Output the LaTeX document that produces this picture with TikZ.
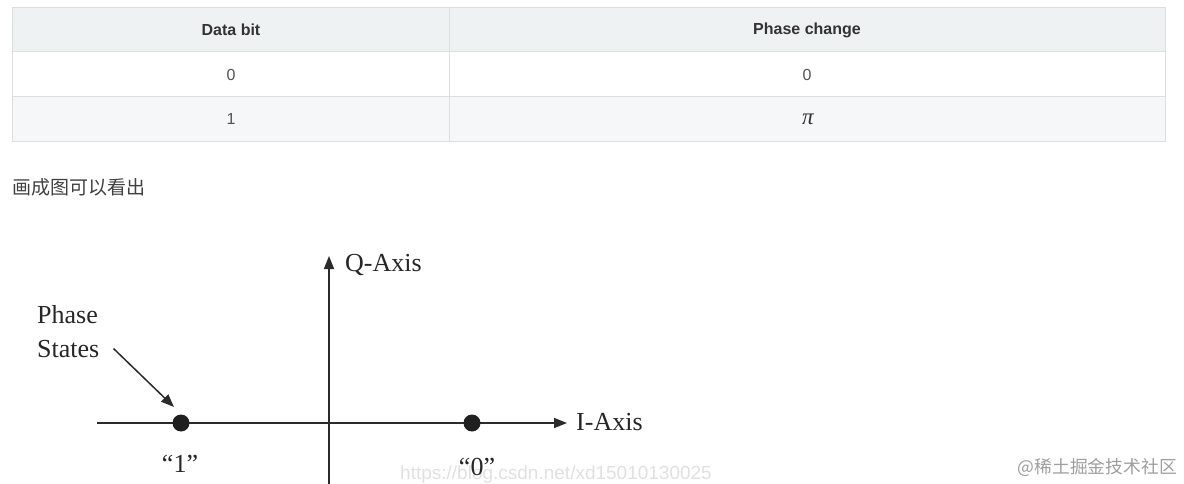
\RequirePackage{fix-cm}
\documentclass[tikz,border=0pt]{standalone}
\usepackage{fontspec}
\setmainfont{Liberation Serif}
\newfontfamily\tabfont{Liberation Sans}
\newfontfamily\cjk{Noto Sans CJK SC}
\usetikzlibrary{positioning,arrows.meta}
\definecolor{headgray}{HTML}{EFF2F3}
\definecolor{rowgray}{HTML}{F6F7F8}
\definecolor{gridgray}{HTML}{DCDEDF}
\definecolor{tabtext}{HTML}{333333}
\definecolor{axisgray}{HTML}{2B2B2B}

\begin{document}
\begin{tikzpicture}[x=1pt, y=-1pt,
    head/.style = {font=\tabfont\bfseries\fontsize{16}{19}\selectfont, text=tabtext},
    cell/.style = {font=\tabfont\fontsize{16}{19}\selectfont, text=tabtext!85},
    gridline/.style = {draw=gridgray, line width=1pt},
    label/.style = {font=\fontsize{26}{30}\selectfont, text=black!85, inner sep=0pt},
    axis/.style = {draw=axisgray, line width=1.6pt, -{Triangle[length=13pt, width=10pt]}},
    phasedot/.style = {circle, fill=black!88, minimum size=17pt, inner sep=0pt},
    mark text/.style = {inner sep=0pt}]
    \useasboundingbox (0,0) rectangle (1184,484);
    % Table
    \fill[headgray] (12,8) rectangle (1165,52);
    \fill[rowgray] (12,97) rectangle (1165,142);
    \draw[gridline] (12,8) rectangle (1165,142);
    \draw[gridline] (12,52) -- (1165,52) (12,97) -- (1165,97) (449,8) -- (449,142);
    \node[head] (bithead) at (231,30) {Data bit};
    \node[head] (phasehead) at (807,30) {Phase change};
    \node[cell] (bit0) at (231,75) {0};
    \node[cell] (phase0) at (807,75) {0};
    \node[cell] (bit1) at (231,119) {1};
    \node[cell, font=\fontsize{23}{25}\selectfont\itshape, text=tabtext] (phase1) at (808,119) {π};
    \node[anchor=west, inner sep=0pt, font=\cjk\fontsize{19}{22}\selectfont, text=black!75] (note) at (12,187) {画成图可以看出};
    % Watermarks
    \node[anchor=base west, mark text, font=\tabfont\fontsize{19}{20}\selectfont, text=black!12] (csdn) at (400,479) {https://blog.csdn.net/xd15010130025};
    \node[anchor=east, mark text, font=\cjk\fontsize{17.8}{20}\selectfont, text=black!38] (juejin) at (1177,467) {@稀土掘金技术社区};
    % Axes
    \coordinate (qbot) at (329,486);
    \coordinate (qtop) at (329,256);
    \coordinate (ileft) at (97,423);
    \coordinate (iright) at (567,423);
    \draw[axis] (qbot) -- (qtop);
    \draw[axis] (ileft) -- (iright);
    \node[label, anchor=base west] (qlabel) at (345,271) {Q-Axis};
    \node[label, anchor=base west] (ilabel) at (576,430) {I-Axis};
    % Phase states
    \node[phasedot] (one) at (181,423) {};
    \node[phasedot] (zero) at (472,423) {};
    \node[label, anchor=base] (onelabel) at (180,472) {“1”};
    \node[label, anchor=base] (zerolabel) at (477,475) {“0”};
    \node[label, anchor=base west] (phase) at (37,323) {Phase};
    \node[label, anchor=base west] (states) at (37,357) {States};
    \coordinate (tip) at (174,407);
    \draw[draw=axisgray, line width=1.5pt, -{Triangle[length=13pt, width=10pt]}] ([xshift=14pt]states.east) -- (tip);
\end{tikzpicture}
\end{document}
